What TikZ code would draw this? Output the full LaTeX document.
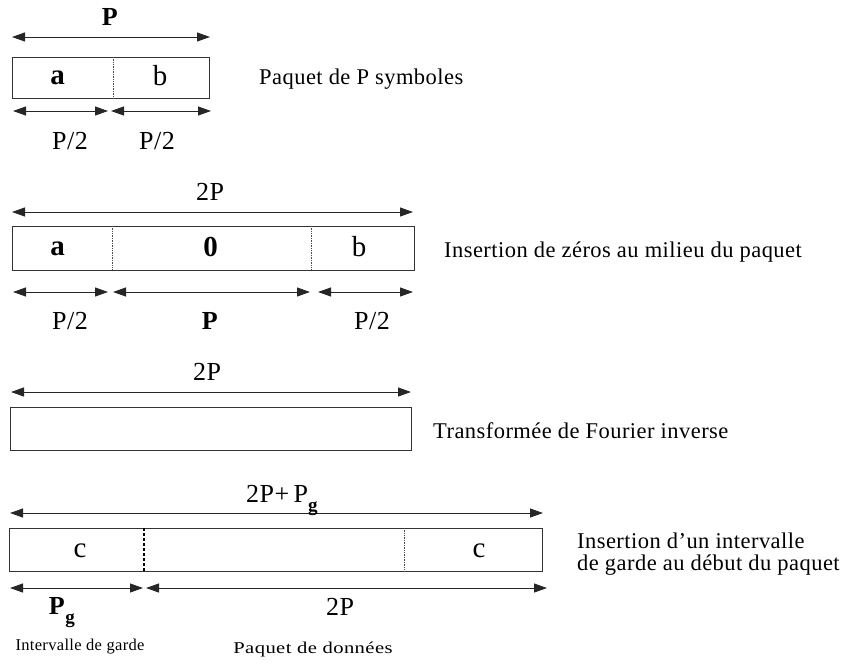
\documentclass[tikz,border=0pt]{standalone}
\usepackage{fontspec}
\setmainfont{Liberation Serif}[LetterSpace=2]
\usetikzlibrary{arrows.meta}
\begin{document}
\begin{tikzpicture}[x=1pt,y=-1pt,
  frame/.style={draw=black!80, line width=1pt, inner sep=0pt, anchor=north west},
  dim/.style={{Triangle[length=13pt,width=9pt]}-{Triangle[length=13pt,width=9pt]}, line width=1pt, draw=black!85},
  sep/.style={densely dotted, line width=0.7pt, draw=black!70},
  guard/.style={dashed, dash pattern=on 3pt off 2pt, line width=1.6pt},
  lbl/.style={font=\fontsize{26}{30}\selectfont, inner sep=0pt},
  cell/.style={font=\fontsize{29}{33}\selectfont, inner sep=0pt},
  caption/.style={font=\fontsize{22.5}{26}\selectfont, anchor=west, inner sep=0pt},
  note/.style={font=\fontsize{16.5}{19}\selectfont, inner sep=0pt}]
\useasboundingbox (0,0) rectangle (845,664);

% ---------- packet of P symbols ----------
\node[frame, minimum width=197pt, minimum height=41pt] (r1) at (12,57) {};
\coordinate (r1m1) at (113,57); \coordinate (r1m2) at (113,98);
\draw[sep] (r1m1) -- (r1m2);
\node[cell] (r1a) at (58,78) {\textbf{a}};
\node[cell] (r1b) at (160,76) {b};
\coordinate (r1tl) at (12,37); \coordinate (r1tr) at (210,37);
\draw[dim] (r1tl) -- (r1tr);
\node[lbl] (r1P) at (110,17) {\textbf{P}};
\coordinate (r1b0) at (13,111); \coordinate (r1b1) at (108,111);
\coordinate (r1b2) at (111,111); \coordinate (r1b3) at (211,111);
\draw[dim] (r1b0) -- (r1b1);
\draw[dim] (r1b2) -- (r1b3);
\node[lbl] (r1h1) at (70,141) {P/2};
\node[lbl] (r1h2) at (157,141) {P/2};
\node[caption] (c1) at (259,79) {Paquet de P symboles};

% ---------- zero insertion ----------
\node[frame, minimum width=402pt, minimum height=44pt] (r2) at (12,226) {};
\coordinate (r2m1) at (112,226); \coordinate (r2m2) at (112,270);
\coordinate (r2m3) at (311,226); \coordinate (r2m4) at (311,270);
\draw[sep] (r2m1) -- (r2m2);
\draw[sep] (r2m3) -- (r2m4);
\node[cell] (r2a) at (58,249) {\textbf{a}};
\node[cell] (r2z) at (211,247) {\textbf{0}};
\node[cell] (r2b) at (359,247) {b};
\coordinate (r2tl) at (12,212); \coordinate (r2tr) at (413,212);
\draw[dim] (r2tl) -- (r2tr);
\node[lbl] (r2P) at (210,192) {2P};
\coordinate (r2b0) at (13,292); \coordinate (r2b1) at (108,292);
\coordinate (r2b2) at (113,292); \coordinate (r2b3) at (310,292);
\coordinate (r2b4) at (318,292); \coordinate (r2b5) at (413,292);
\draw[dim] (r2b0) -- (r2b1);
\draw[dim] (r2b2) -- (r2b3);
\draw[dim] (r2b4) -- (r2b5);
\node[lbl] (r2h1) at (70,321) {P/2};
\node[lbl] (r2h2) at (210,321) {\textbf{P}};
\node[lbl] (r2h3) at (372,321) {P/2};
\node[caption] (c2) at (444,252) {Insertion de zéros au milieu du paquet};

% ---------- inverse Fourier transform ----------
\node[frame, minimum width=401pt, minimum height=43pt] (r3) at (10,407) {};
\coordinate (r3tl) at (11,392); \coordinate (r3tr) at (411,392);
\draw[dim] (r3tl) -- (r3tr);
\node[lbl] (r3P) at (207,372) {2P};
\node[caption] (c3) at (433,431) {Transformée de Fourier inverse};

% ---------- guard interval ----------
\node[frame, minimum width=533pt, minimum height=43pt] (r4) at (9,528) {};
\coordinate (r4m1) at (144,528); \coordinate (r4m2) at (144,571);
\coordinate (r4m3) at (404,528); \coordinate (r4m4) at (404,571);
\draw[guard] (r4m1) -- (r4m2);
\draw[sep] (r4m3) -- (r4m4);
\node[cell] (r4c1) at (80,551) {c};
\node[cell] (r4c2) at (479,551) {c};
\coordinate (r4tl) at (10,513); \coordinate (r4tr) at (543,513);
\draw[dim] (r4tl) -- (r4tr);
\node[lbl, anchor=base] (r4P) at (282,502) {2P+\,P\raisebox{-0.35em}{\fontsize{19}{22}\selectfont\textbf{g}}};
\coordinate (r4b0) at (10,588); \coordinate (r4b1) at (143,588);
\coordinate (r4b2) at (146,588); \coordinate (r4b3) at (547,588);
\draw[dim] (r4b0) -- (r4b1);
\draw[dim] (r4b2) -- (r4b3);
\node[lbl, anchor=base] (r4g) at (62,614) {\textbf{P}\raisebox{-0.35em}{\fontsize{19}{22}\selectfont\textbf{g}}};
\node[lbl] (r4h) at (340,607) {2P};
\node[caption, align=left, font=\fontsize{22.5}{22.5}\selectfont] (c4) at (577,554) {Insertion d’un intervalle\\de garde au début du paquet};
\node[note] (n1) at (80,647) {Intervalle de garde};
\node[note] (n2) at (313,650) {\scalebox{1.25}[1]{Paquet de données}};
\end{tikzpicture}
\end{document}
